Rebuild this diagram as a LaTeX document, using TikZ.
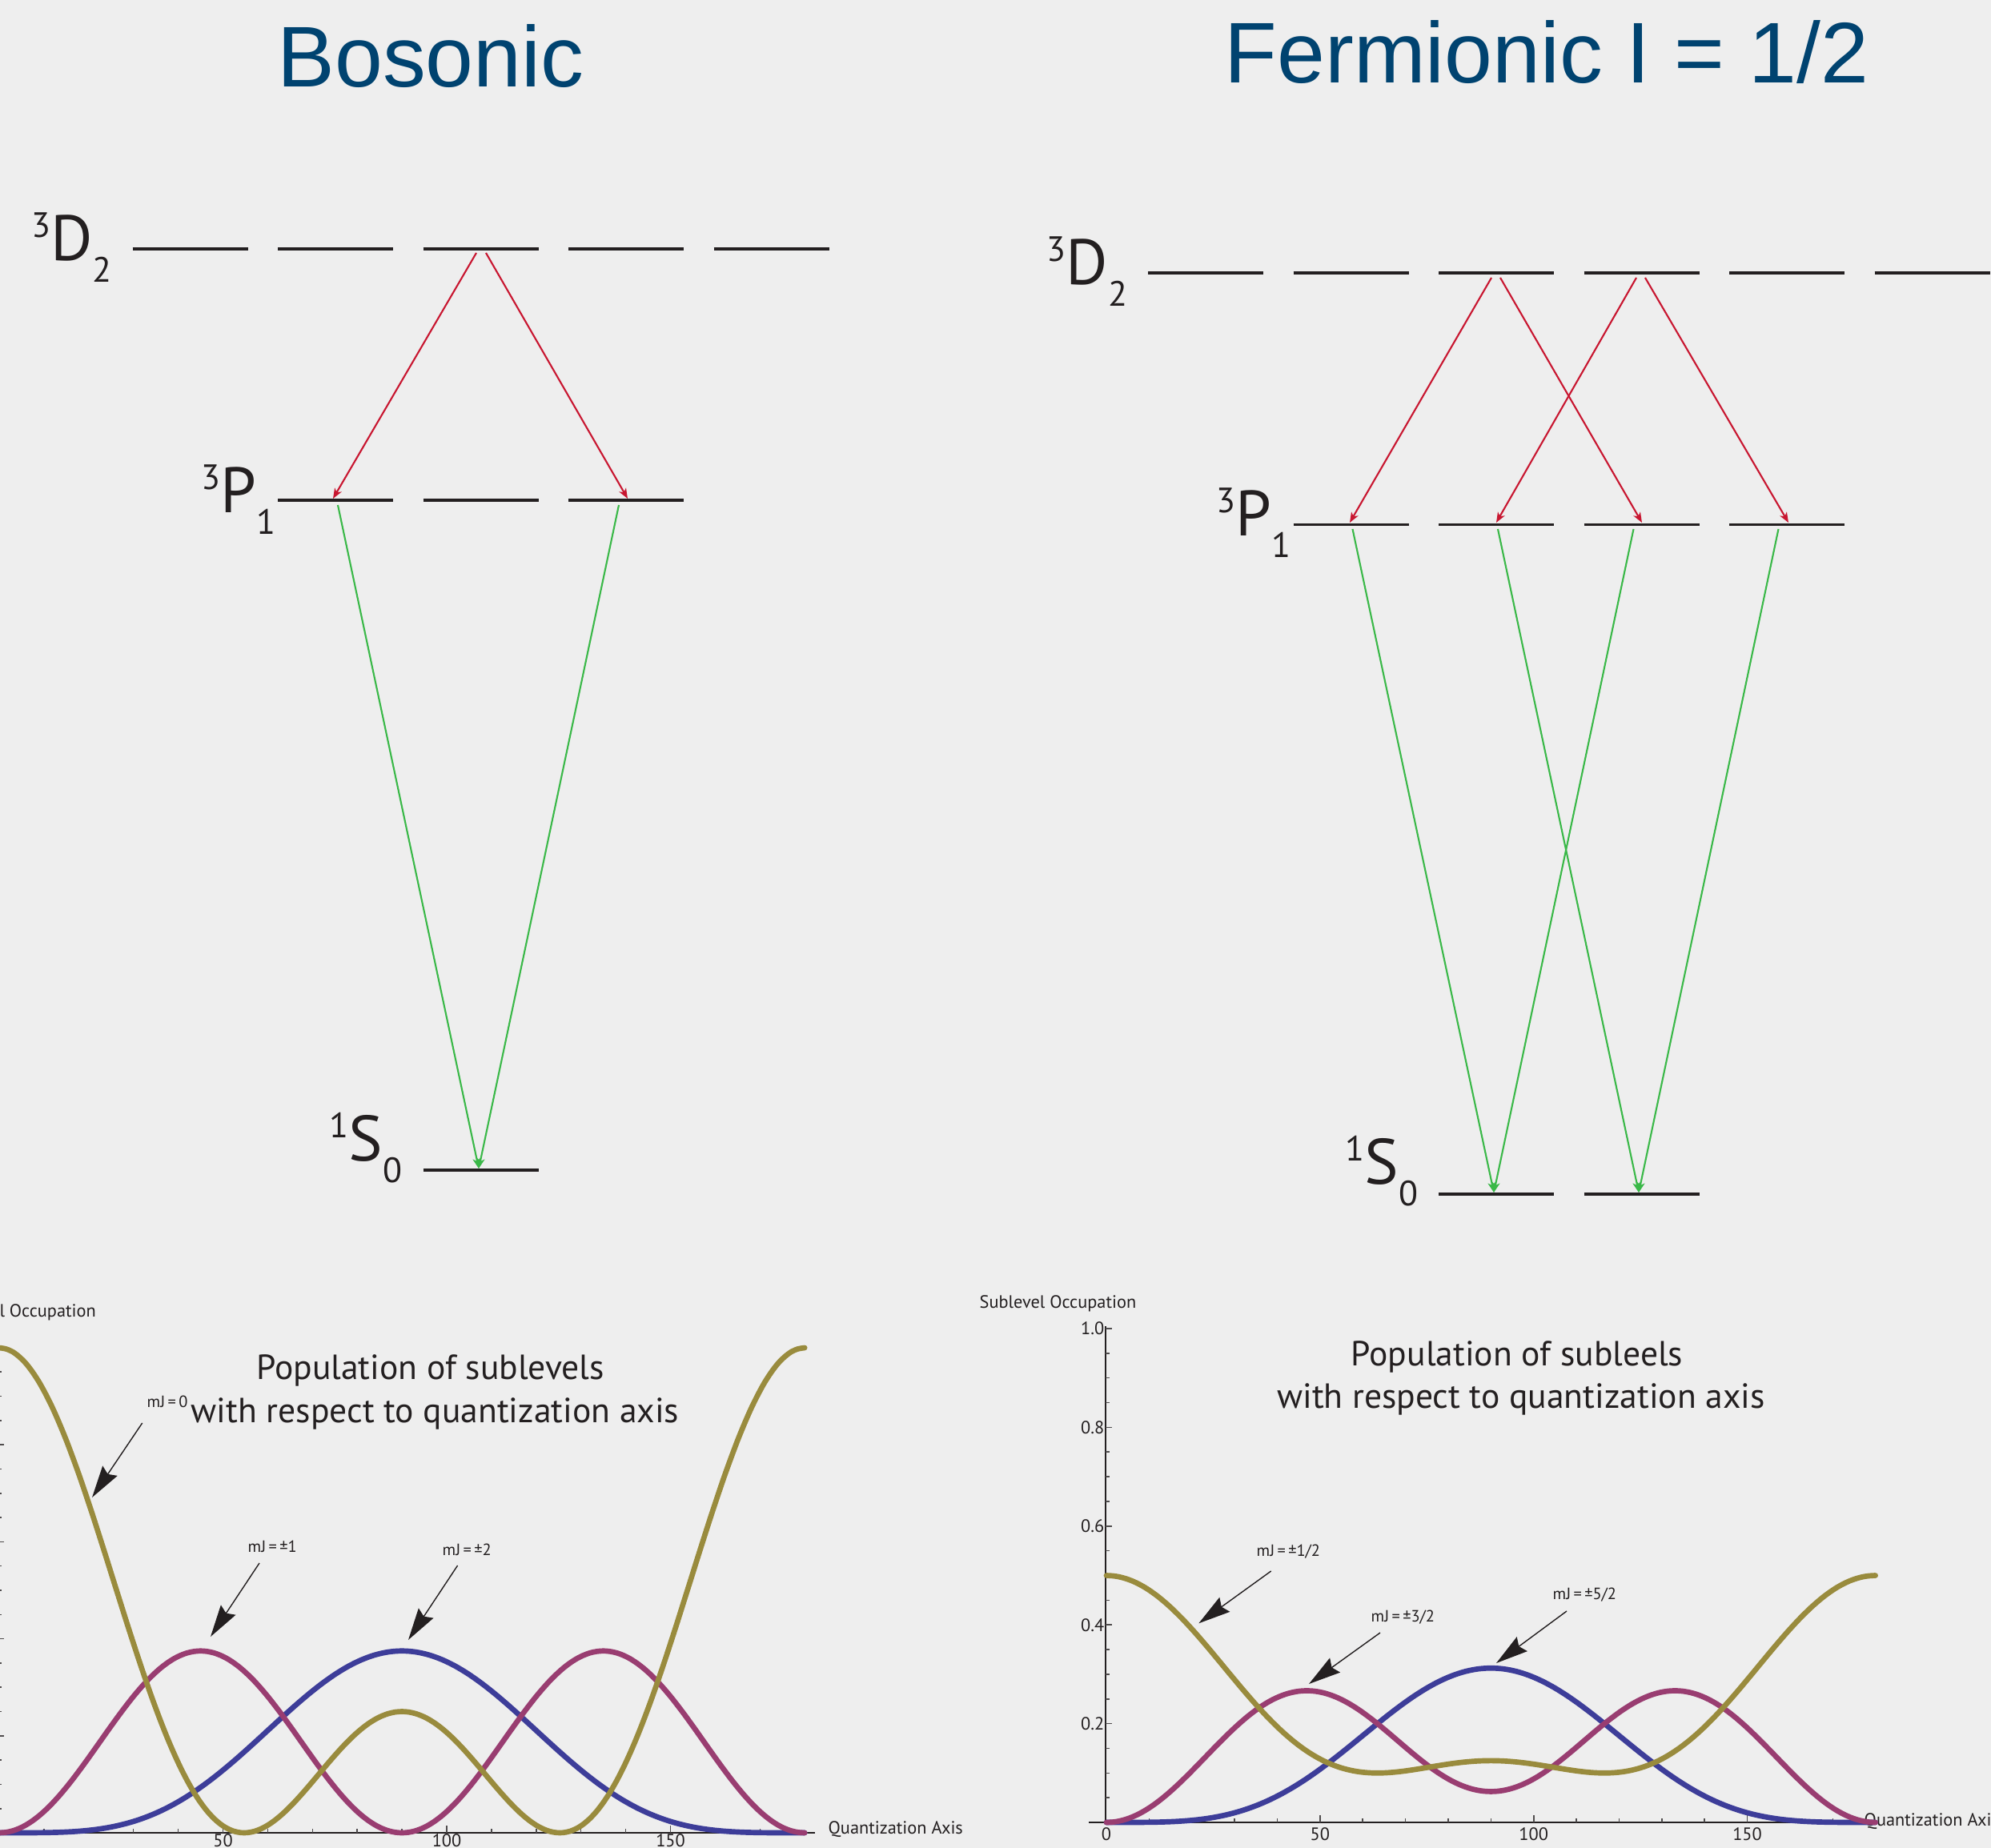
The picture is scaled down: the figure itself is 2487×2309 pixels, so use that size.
\documentclass[tikz,border=0pt]{standalone}
\usepackage{fontspec}
\setmainfont{PT Sans}
\newfontfamily\titlefont{Liberation Sans}
\usetikzlibrary{arrows.meta}
\definecolor{bg}{RGB}{238,238,238}
\definecolor{titleblue}{RGB}{0,67,112}
\definecolor{lvlred}{RGB}{200,22,48}
\definecolor{lvlgreen}{RGB}{58,184,72}
\definecolor{cblue}{rgb}{0.24,0.24,0.6}
\definecolor{cmag}{rgb}{0.6,0.24,0.442}
\definecolor{colive}{rgb}{0.6,0.547,0.24}
\definecolor{ink}{RGB}{35,31,32}
\newcommand{\termsym}[3]{{\fontsize{12.5}{13}\selectfont\raisebox{8pt}{#1}}{\fontsize{22.8}{24}\selectfont #2}{\fontsize{12.5}{13}\selectfont\raisebox{-7.7pt}{#3}}}
\newcommand{\bx}{-1}
\newcommand{\bxs}{5.59}
\newcommand{\by}{2290}
\newcommand{\bys}{606}
\newcommand{\fx}{1382}
\newcommand{\fxs}{5.337}
\newcommand{\fy}{2277}
\newcommand{\fys}{617}
\begin{document}
\begin{tikzpicture}[x=0.01cm,y=-0.01cm,
  bigtitle/.style={font=\titlefont\fontsize{30.6}{32}\selectfont, text=titleblue, inner sep=0, anchor=base},
  termlabel/.style={anchor=base west, inner sep=0, text=ink},
  level/.style={draw=ink, line width=0.9pt},
  redarr/.style={draw=lvlred, line width=0.6pt, -{Stealth[length=3.6pt,width=2.8pt,inset=1pt]}},
  greenarr/.style={draw=lvlgreen, line width=0.6pt, -{Stealth[length=3.6pt,width=2.8pt,inset=1pt]}},
  cur/.style={line width=1.9pt, line cap=round, line join=round},
  axisline/.style={draw=ink, line width=0.55pt},
  tickline/.style={draw=ink!80, line width=0.45pt},
  small/.style={font=\fontsize{6.35}{7}\selectfont, text=ink, inner sep=0},
  mjlabel/.style={font=\fontsize{5.8}{6}\selectfont, text=ink, inner sep=0, anchor=base west},
  ptitle/.style={font=\fontsize{12.4}{14}\selectfont, text=ink, inner sep=0, anchor=base},
  callout/.style={draw=ink, line width=0.4pt, -{Stealth[length=11.4pt,width=6.3pt,inset=1.4pt]}}
]
\useasboundingbox (0,0) rectangle (2487,2309);
\fill[bg] (0,0) rectangle (2487,2309);
\clip (0,0) rectangle (2487,2309);

% ---------------- titles
\node[bigtitle] (tB) at (538,109) {Bosonic};
\node[bigtitle] (tF) at (1932,104) {Fermionic I = 1/2};

% ---------------- bosonic levels
\foreach \x in {237.5,419,600.5,782,963.5} \draw[level] (\x-72,311) -- (\x+72,311);
\foreach \x in {419,600.5,782} \draw[level] (\x-72,625) -- (\x+72,625);
\draw[level] (528.5,1462) -- (672.5,1462);
\node[termlabel] (bDlab) at (38.6,325) {\termsym{3}{D}{2}};
\node[termlabel] (bPlab) at (251,640) {\termsym{3}{P}{1}};
\node[termlabel] (bSlab) at (411,1450) {\termsym{1}{S}{0}};

\coordinate (bD3l) at (595,316);
\coordinate (bD3r) at (607,316);
\coordinate (bP2in) at (416,623);
\coordinate (bP4in) at (784,623);
\coordinate (bP2out) at (422,631);
\coordinate (bP4out) at (773,631);
\coordinate (bS3in) at (598,1460);
\draw[redarr] (bD3l) -- (bP2in);
\draw[redarr] (bD3r) -- (bP4in);
\draw[greenarr] (bP2out) -- (bS3in);
\draw[greenarr] (bP4out) -- (bS3in);

% ---------------- fermionic levels
\foreach \x in {1506,1687.5,1869,2050.5,2232,2413.5} \draw[level] (\x-72,341) -- (\x+72,341);
\foreach \x in {1687.5,1869,2050.5,2232} \draw[level] (\x-72,655.5) -- (\x+72,655.5);
\foreach \x in {1869,2050.5} \draw[level] (\x-72,1492) -- (\x+72,1492);
\node[termlabel] (fDlab) at (1307,355) {\termsym{3}{D}{2}};
\node[termlabel] (fPlab) at (1519,669) {\termsym{3}{P}{1}};
\node[termlabel] (fSlab) at (1680,1479) {\termsym{1}{S}{0}};

\coordinate (fD3l) at (1863,347);
\coordinate (fD3r) at (1874,347);
\coordinate (fD4l) at (2044,347);
\coordinate (fD4r) at (2055,347);
\coordinate (fP2in) at (1686,653);
\coordinate (fP3in) at (1869,653);
\coordinate (fP4in) at (2051,653);
\coordinate (fP5in) at (2234,653);
\coordinate (fP2out) at (1689.5,661);
\coordinate (fP3out) at (1871,661);
\coordinate (fP4out) at (2040.5,661);
\coordinate (fP5out) at (2221.5,661);
\coordinate (fS3in) at (1866,1490);
\coordinate (fS4in) at (2047,1490);
\draw[redarr] (fD3l) -- (fP2in);
\draw[redarr] (fD3r) -- (fP4in);
\draw[redarr] (fD4l) -- (fP3in);
\draw[redarr] (fD4r) -- (fP5in);
\draw[greenarr] (fP2out) -- (fS3in);
\draw[greenarr] (fP4out) -- (fS3in);
\draw[greenarr] (fP3out) -- (fS4in);
\draw[greenarr] (fP5out) -- (fS4in);

% ---------------- bosonic plot
\draw[axisline] (-3,\by) -- (1018,\by);
\draw[axisline] (-3,\by) -- (-3,1680);
\foreach \t in {10,20,...,170} \draw[tickline] ({\bx+\bxs*\t},\by) -- ++(0,-5);
\foreach \t in {50,100,150} \draw[tickline] ({\bx+\bxs*\t},\by) -- ++(0,-9);
\foreach \v in {0.05,0.1,...,1.01} \draw[tickline] (-3,{\by-\bys*\v}) -- ++(5,0);
\foreach \v in {0.2,0.4,0.6,0.8,1.0} \draw[tickline] (-3,{\by-\bys*\v}) -- ++(8,0);
\node[small, anchor=base] (bt50) at ({\bx+\bxs*50},2307) {50};
\node[small, anchor=base] (bt100) at ({\bx+\bxs*100},2307) {100};
\node[small, anchor=base] (bt150) at ({\bx+\bxs*150},2307) {150};
\node[small, anchor=base west] (bqa) at (1034,2291) {Quantization Axis};
\node[small, anchor=base east] (bso) at (120.5,1645) {Sublevel Occupation};

\draw[cur, cblue] plot[domain=0:180, samples=121, smooth] ({\bx+\bxs*\x},{\by-\bys*0.375*sin(\x)*sin(\x)*sin(\x)*sin(\x)});
\draw[cur, cmag] plot[domain=0:180, samples=121, smooth] ({\bx+\bxs*\x},{\by-\bys*1.5*cos(\x)*cos(\x)*sin(\x)*sin(\x)});
\draw[cur, colive] plot[domain=0:180, samples=121, smooth] ({\bx+\bxs*\x},{\by-\bys*(3*cos(\x)*cos(\x)-1)*(3*cos(\x)*cos(\x)-1)/4});

\node[ptitle] (bpt1) at (537.6,1723) {Population of sublevels};
\node[ptitle] (bpt2) at (543.5,1777.7) {with respect to quantization axis};
\node[mjlabel] (bm0) at (183,1758) {mJ\,=\,0};
\node[mjlabel] (bm1) at (309,1939) {mJ\,=\,±1};
\node[mjlabel] (bm2) at (552,1943.6) {mJ\,=\,±2};
\coordinate (bm0s) at (177.7,1778);
\coordinate (bm0t) at (115,1871);
\coordinate (bm1s) at (324,1953);
\coordinate (bm1t) at (263,2045);
\coordinate (bm2s) at (571.6,1956);
\coordinate (bm2t) at (510,2049);
\draw[callout] (bm0s) -- (bm0t);
\draw[callout] (bm1s) -- (bm1t);
\draw[callout] (bm2s) -- (bm2t);

% ---------------- fermionic plot
\draw[axisline] (1360,\fy) -- (2329,\fy);
\draw[axisline] (1381,\fy) -- (1381,1657);
\foreach \t in {10,20,...,170} \draw[tickline] ({\fx+\fxs*\t},\fy) -- ++(0,-5);
\foreach \t in {50,100,150} \draw[tickline] ({\fx+\fxs*\t},\fy) -- ++(0,-9);
\foreach \v in {0.05,0.1,...,1.01} \draw[tickline] (1381,{\fy-\fys*\v}) -- ++(5,0);
\foreach \v in {0.2,0.4,0.6,0.8,1.0} \draw[tickline] (1381,{\fy-\fys*\v}) -- ++(8,0);
\node[small, anchor=base] (ft0) at ({\fx},2299) {0};
\node[small, anchor=base] (ft50) at ({\fx+\fxs*50},2299) {50};
\node[small, anchor=base] (ft100) at ({\fx+\fxs*100},2299) {100};
\node[small, anchor=base] (ft150) at ({\fx+\fxs*150},2299) {150};
\node[small, anchor=east] (fy2) at (1380,{\fy-\fys*0.2}) {0.2};
\node[small, anchor=east] (fy4) at (1380,{\fy-\fys*0.4}) {0.4};
\node[small, anchor=east] (fy6) at (1380,{\fy-\fys*0.6}) {0.6};
\node[small, anchor=east] (fy8) at (1380,{\fy-\fys*0.8}) {0.8};
\node[small, anchor=east] (fy10) at (1380,{\fy-\fys*1.0}) {1.0};
\node[small, anchor=base west] (fqa) at (2328,2281) {Quantization Axis};
\node[small, anchor=base west] (fso) at (1223,1634) {Sublevel Occupation};

\draw[cur, cblue] plot[domain=0:180, samples=121, smooth] ({\fx+\fxs*\x},{\fy-\fys*0.3125*sin(\x)*sin(\x)*sin(\x)*sin(\x)});
\draw[cur, cmag] plot[domain=0:180, samples=121, smooth] ({\fx+\fxs*\x},{\fy-\fys*sin(\x)*sin(\x)*(1+15*cos(\x)*cos(\x))/16});
\draw[cur, colive] plot[domain=0:180, samples=121, smooth] ({\fx+\fxs*\x},{\fy-\fys*(1-2*cos(\x)*cos(\x)+5*cos(\x)*cos(\x)*cos(\x)*cos(\x))/8});

\node[ptitle] (fpt1) at (1895,1706.5) {Population of subleels};
\node[ptitle] (fpt2) at (1900,1759) {with respect to quantization axis};
\node[mjlabel] (fm1) at (1569,1944.3) {mJ\,=\,±1/2};
\node[mjlabel] (fm3) at (1712,2026) {mJ\,=\,±3/2};
\node[mjlabel] (fm5) at (1939,1998.4) {mJ\,=\,±5/2};
\coordinate (fm1s) at (1587.7,1963);
\coordinate (fm1t) at (1497.3,2028.3);
\coordinate (fm3s) at (1724,2040);
\coordinate (fm3t) at (1635,2104);
\coordinate (fm5s) at (1957,2013);
\coordinate (fm5t) at (1869,2078);
\draw[callout] (fm1s) -- (fm1t);
\draw[callout] (fm3s) -- (fm3t);
\draw[callout] (fm5s) -- (fm5t);
\end{tikzpicture}
\end{document}
